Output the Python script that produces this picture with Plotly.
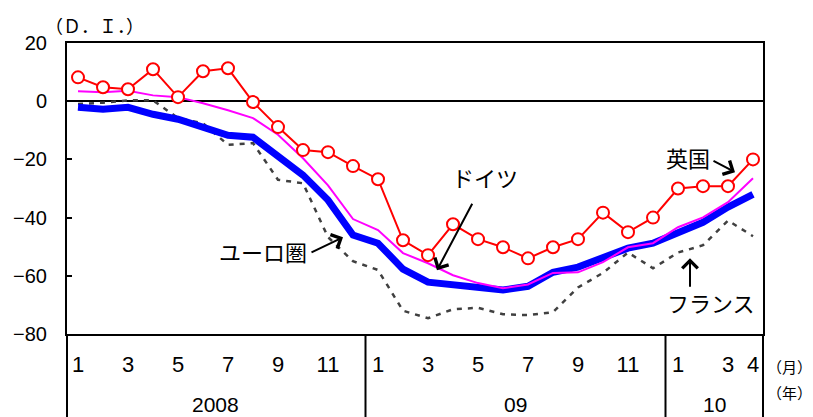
import plotly.graph_objects as go

# Monthly index: 0 = Jan 2008 ... 27 = Apr 2010
months_idx = list(range(28))
uk = [8.2, 4.8, 4.1, 11.0, 1.4, 10.3, 11.3, -0.3, -8.9, -16.8, -17.5, -22.3, -26.8, -47.8,
      -52.9, -42.3, -47.4, -50.2, -54.0, -50.2, -47.4, -38.3, -45.0, -40.0, -30.0, -29.2, -29.2, -20.0]
euro = [-2.1, -2.8, -2.1, -4.5, -6.2, -8.9, -11.7, -12.4, -18.8, -25.4, -34.0, -46.0, -48.8, -57.7,
        -62.2, -62.9, -63.9, -64.9, -63.6, -58.8, -57.0, -54.0, -50.5, -48.8, -45.0, -41.6, -36.4, -32.0]
germany = [3.4, 3.1, 3.6, 2.0, 1.4, -0.7, -3.1, -5.8, -11.5, -19.6, -28.9, -40.5, -44.3, -52.2,
           -55.7, -59.8, -62.5, -64.3, -63.0, -59.0, -58.8, -55.3, -50.2, -48.8, -43.3, -39.9, -34.7, -26.5]
france = [-1.0, -0.5, 0.3, 0.3, -5.8, -7.6, -15.0, -14.4, -27.0, -28.2, -46.7, -55.0, -58.0, -72.0,
          -74.6, -71.5, -71.0, -73.2, -73.5, -72.5, -64.0, -59.0, -52.0, -57.4, -52.0, -49.5, -41.0, -46.4]

tick_pos = [0, 2, 4, 6, 8, 10, 12, 14, 16, 18, 20, 22, 24, 26, 27]
tick_text = ["1", "3", "5", "7", "9", "11", "1", "3", "5", "7", "9", "11", "1", "3", "4"]
year_labels = ["2008", "09", "10"]
year_pos = [5.5, 17.5, 25.45]
year_breaks = [11.5, 23.5]
y_ticks = [20, 0, -20, -40, -60, -80]

JP = "Noto Sans CJK JP"
NUM = "Liberation Sans"

fig = go.Figure()
fig.add_trace(go.Scatter(x=months_idx, y=france, mode="lines",
                         line=dict(color="#404040", width=2.5, dash="5px,6px"), name="フランス"))
fig.add_trace(go.Scatter(x=months_idx, y=euro, mode="lines",
                         line=dict(color="#0000FF", width=7), name="ユーロ圏"))
fig.add_trace(go.Scatter(x=months_idx, y=germany, mode="lines",
                         line=dict(color="#FF00FF", width=2), name="ドイツ"))
fig.add_trace(go.Scatter(x=months_idx, y=uk, mode="lines+markers",
                         line=dict(color="#FF0000", width=2),
                         marker=dict(symbol="circle", size=12, color="white",
                                     line=dict(color="#FF0000", width=2)), name="英国"))

xr = [-0.44, 27.4]
fig.update_xaxes(range=xr, tickvals=tick_pos, ticktext=tick_text, ticks="",
                 showgrid=False, zeroline=False, showline=True, linecolor="black", linewidth=2,
                 mirror=True, tickfont=dict(family=NUM, size=22, color="black"),
                 ticklabelstandoff=10)
fig.update_yaxes(range=[-80, 20], tickvals=y_ticks, ticks="inside", ticklen=5, tickwidth=1.5,
                 tickcolor="black", showgrid=False, zeroline=True, zerolinecolor="black",
                 zerolinewidth=2, showline=True, linecolor="black", linewidth=2, mirror=True,
                 tickfont=dict(family=NUM, size=20, color="black"), ticklabelstandoff=14)

# table borders below the plot
for xb in year_breaks:
    fig.add_shape(type="line", xref="x", yref="paper", x0=xb, x1=xb, y0=0, y1=-0.35,
                  line=dict(color="black", width=2))
for xp in [0, 1]:
    fig.add_shape(type="line", xref="paper", yref="paper", x0=xp, x1=xp, y0=0, y1=-0.35,
                  line=dict(color="black", width=2))

for lab, xp in zip(year_labels, year_pos):
    fig.add_annotation(x=xp, y=-0.243, xref="x", yref="paper", text=lab, showarrow=False,
                       xanchor="center", yanchor="middle",
                       font=dict(family=NUM, size=21, color="black"))

fig.add_annotation(x=1.0, y=-0.11, xref="paper", yref="paper", xanchor="left", yanchor="middle",
                   xshift=2, text="（月）", showarrow=False,
                   font=dict(family=JP, size=15, color="black"))
fig.add_annotation(x=1.0, y=-0.20, xref="paper", yref="paper", xanchor="left", yanchor="middle",
                   xshift=2, text="（年）", showarrow=False,
                   font=dict(family=JP, size=15, color="black"))
fig.add_annotation(x=0.039, y=1.062, xref="paper", yref="paper", xanchor="center", yanchor="middle",
                   text="（Ｄ．Ｉ．）", showarrow=False, font=dict(family=JP, size=18, color="black"))

# series labels
def px2x(p):
    return (p - 78) / 25.0

def px2y(p):
    return (101 - p) / 2.91

labels = [("ドイツ", 485, 177), ("ユーロ圏", 263, 251), ("英国", 688, 157), ("フランス", 711, 302)]
for t, lx, ly in labels:
    fig.add_annotation(x=px2x(lx), y=px2y(ly), text=t, showarrow=False,
                       xanchor="center", yanchor="middle",
                       font=dict(family=JP, size=22, color="black"))

arrows = [(437, 270, 36, -68), (343, 237, -33, 16), (735, 172, -23, -12), (690, 258, 0, 30)]
for hx, hy, ax, ay in arrows:
    fig.add_annotation(x=px2x(hx), y=px2y(hy), text="", showarrow=True, ax=ax, ay=ay,
                       arrowhead=4, arrowsize=1.5, arrowwidth=2, arrowcolor="black")

fig.update_layout(width=813, height=417, margin=dict(l=67, r=50, t=43, b=83),
                  plot_bgcolor="white", paper_bgcolor="white", showlegend=False)

fig.write_html("out.html")
